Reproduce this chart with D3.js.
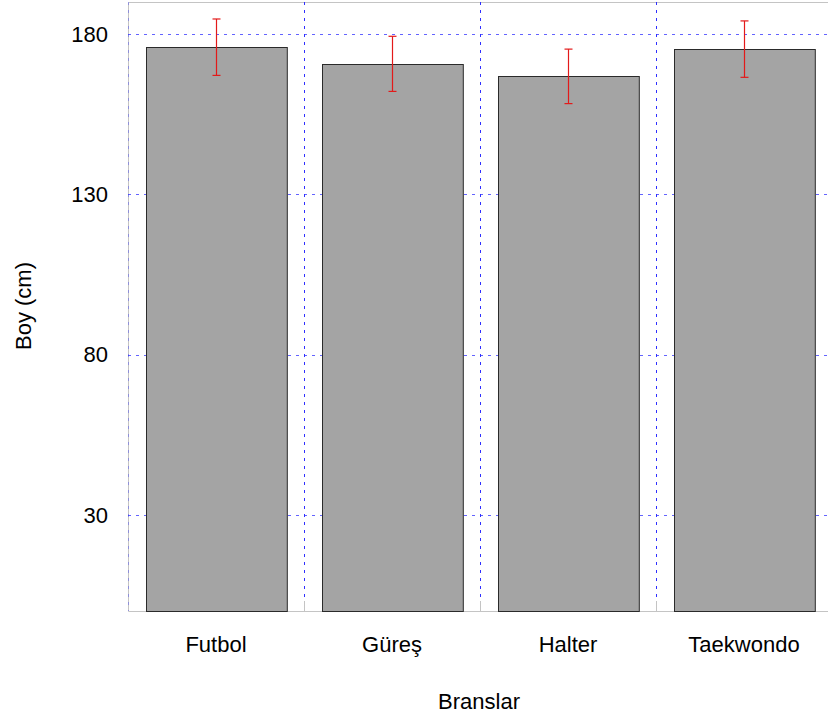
<!DOCTYPE html>
<html>
<head>
<meta charset="utf-8">
<script src="https://cdn.jsdelivr.net/npm/d3@7"></script>
<style>
  body { margin: 0; background: #fff; }
  text { font-family: "Liberation Sans", Arial, sans-serif; fill: #000; }
</style>
</head>
<body>
<div id="chart"></div>
<script>
// data
var branslar = ["Futbol", "Güreş", "Halter", "Taekwondo"];
var boyMean = [175.9, 170.7, 166.8, 175.3];
var boySd = [8.8, 8.6, 8.5, 8.8];
var yTicks = [30, 80, 130, 180];

var svgWidth = 828;
var svgHeight = 722;

var svg = d3.select("#chart")
    .append("svg")
    .attr("width", svgWidth)
    .attr("height", svgHeight);

// plot area edges
var plotLeft = 128, plotRight = 832, plotTop = 2, plotBottom = 611;

var x = d3.scaleBand()
    .domain(branslar)
    .range([plotLeft, plotRight])
    .paddingInner(0.2)
    .paddingOuter(0.1);

var y = d3.scaleLinear()
    .domain([0, 190])
    .range([plotBottom, plotTop]);

var step = x.step();
var edges = d3.range(branslar.length + 1).map(i => plotLeft + i * step);

// frame
svg.append("path")
    .attr("d", `M${plotRight},${plotTop + 0.5}H${plotLeft + 0.5}V${plotBottom + 0.5}H${plotRight}`)
    .attr("fill", "none")
    .attr("stroke", "#c4c4c4");

// grid
var grid = svg.append("g")
    .attr("stroke", "#2f2fff")
    .attr("stroke-dasharray", "3,5");

grid.selectAll("line.h")
    .data(yTicks)
    .enter()
    .append("line")
    .attr("x1", plotLeft)
    .attr("x2", plotRight)
    .attr("y1", d => Math.round(y(d)) + 0.5)
    .attr("y2", d => Math.round(y(d)) + 0.5)
    .attr("stroke-opacity", 0.75);

grid.selectAll("line.v")
    .data(edges)
    .enter()
    .append("line")
    .attr("x1", d => Math.round(d) + 0.5)
    .attr("x2", d => Math.round(d) + 0.5)
    .attr("y1", plotTop)
    .attr("y2", plotBottom)
    .attr("stroke-opacity", (d, i) => i == 0 ? 0.35 : 1);

// small gray ticks at bottom between bars
svg.append("g").selectAll("line")
    .data(edges.slice(1))
    .enter()
    .append("line")
    .attr("x1", d => Math.round(d) + 0.5)
    .attr("x2", d => Math.round(d) + 0.5)
    .attr("y1", plotBottom - 10)
    .attr("y2", plotBottom)
    .attr("stroke", "#c4c4c4");

// bars
svg.append("g").selectAll("rect")
    .data(branslar)
    .enter()
    .append("rect")
    .attr("x", d => Math.round(x(d)) + 0.5)
    .attr("y", (d, i) => Math.round(y(boyMean[i])) + 0.5)
    .attr("width", x.bandwidth())
    .attr("height", (d, i) => plotBottom - Math.round(y(boyMean[i])))
    .attr("fill", "#a4a4a4")
    .attr("stroke", "#2a2a2a")
    .attr("stroke-width", 1);

// error bars
var err = svg.append("g")
    .attr("stroke", "#e31a1a")
    .attr("stroke-width", 1.2);

branslar.forEach(function(d, i) {
    var cx = Math.round(x(d) + x.bandwidth() / 2) + 0.5;
    var hi = y(boyMean[i] + boySd[i]);
    var lo = y(boyMean[i] - boySd[i]);
    err.append("line").attr("x1", cx).attr("x2", cx).attr("y1", hi).attr("y2", lo);
    err.append("line").attr("x1", cx - 4).attr("x2", cx + 4).attr("y1", hi).attr("y2", hi);
    err.append("line").attr("x1", cx - 4).attr("x2", cx + 4).attr("y1", lo).attr("y2", lo);
});

// y tick labels
svg.append("g").selectAll("text")
    .data(yTicks)
    .enter()
    .append("text")
    .attr("x", 108)
    .attr("y", d => y(d))
    .attr("dy", "0.35em")
    .attr("text-anchor", "end")
    .style("font-size", "22px")
    .text(d => d);

// category labels
svg.append("g").selectAll("text")
    .data(branslar)
    .enter()
    .append("text")
    .attr("x", d => x(d) + x.bandwidth() / 2)
    .attr("y", 652)
    .attr("text-anchor", "middle")
    .style("font-size", "22px")
    .text(d => d);

// axis titles
svg.append("text")
    .attr("transform", "translate(30.5, 306) rotate(-90)")
    .attr("text-anchor", "middle")
    .style("font-size", "22px")
    .text("Boy (cm)");

svg.append("text")
    .attr("x", 479)
    .attr("y", 709)
    .attr("text-anchor", "middle")
    .style("font-size", "22px")
    .text("Branslar");
</script>
</body>
</html>
